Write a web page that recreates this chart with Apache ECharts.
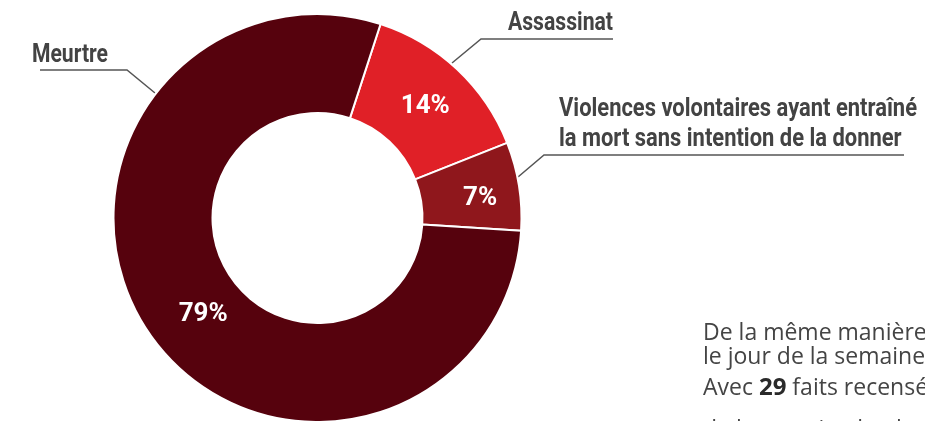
<!DOCTYPE html>
<html>
<head>
<meta charset="utf-8">
<script src="https://cdn.jsdelivr.net/npm/echarts@6/dist/echarts.min.js"></script>
<style>
html,body{margin:0;padding:0;background:#fff;overflow:hidden;}
#chart{width:925px;height:421px;}
</style>
</head>
<body>
<div id="chart"></div>
<script>
// Data
const categories = ['Assassinat', 'Violences volontaires ayant entraîné\nla mort sans intention de la donner', 'Meurtre'];
const values = [14, 7, 79];
const colors = ['#e02027', '#8f171c', '#56020d'];
const bodyLines = ['De la même manière', 'le jour de la semaine', 'Avec {b|29} faits recensés', 'de la semaine le plus de'];

const chart = echarts.init(document.getElementById('chart'));
const calloutFont = 'bold 26px Roboto, sans-serif';
const lineStyle = {stroke: '#555', lineWidth: 1.5, fill: null};
const labelOffsets = [[0, 3], [7, 5], [16, 8]];

const ctx = document.createElement('canvas').getContext('2d');
function fitScale(text, font, target) {
  ctx.font = font;
  return target / ctx.measureText(text).width;
}
const sMeurtre = fitScale('Meurtre', calloutFont, 76);
const sAssassinat = fitScale('Assassinat', calloutFont, 105);
const sViolences = fitScale(categories[1].split('\n')[0], calloutFont, 358);

const bodyFont = '23px "Open Sans", sans-serif';
const bodyTops = [322, 346, 377, 419];

chart.setOption({
  backgroundColor: '#fff',
  animation: false,
  series: [{
    type: 'pie',
    center: [317.5, 218],
    radius: [105, 204],
    startAngle: 72,
    clockwise: true,
    silent: true,
    itemStyle: {borderColor: '#fff', borderWidth: 2},
    label: {
      show: true,
      position: 'inside',
      formatter: p => p.value + '%',
      color: '#fff',
      fontFamily: 'Roboto, sans-serif',
      fontWeight: 'bold',
      fontSize: 26
    },
    labelLayout: p => ({dx: labelOffsets[p.dataIndex][0], dy: labelOffsets[p.dataIndex][1]}),
    labelLine: {show: false},
    data: categories.map((c, i) => ({name: c, value: values[i], itemStyle: {color: colors[i]}}))
  }],
  graphic: [
    // Meurtre callout
    {type: 'text', x: 32, y: 42, scaleX: sMeurtre, style: {text: categories[2], font: calloutFont, fill: '#434343', lineHeight: 26, verticalAlign: 'top'}},
    {type: 'polyline', shape: {points: [[40, 70], [127, 70], [155, 93]]}, style: lineStyle},
    // Assassinat callout
    {type: 'text', x: 508, y: 10, scaleX: sAssassinat, style: {text: categories[0], font: calloutFont, fill: '#434343', lineHeight: 26, verticalAlign: 'top'}},
    {type: 'polyline', shape: {points: [[613, 39], [481, 39], [452, 63]]}, style: lineStyle},
    // Violences callout
    {type: 'text', x: 559, y: 94, scaleX: sViolences, style: {text: categories[1], font: calloutFont, fill: '#434343', lineHeight: 30, verticalAlign: 'top'}},
    {type: 'polyline', shape: {points: [[904, 155], [544, 155], [518, 177]]}, style: lineStyle}
  ].concat(bodyLines.map((t, i) => ({
    type: 'text', x: 703, y: bodyTops[i], style: {
      text: t, font: bodyFont, fill: '#444', lineHeight: 23, verticalAlign: 'top',
      rich: {b: {font: 'bold 24px "Open Sans", sans-serif', fill: '#2a2a2a', lineHeight: 23}}
    }
  })))
});
</script>
</body>
</html>
